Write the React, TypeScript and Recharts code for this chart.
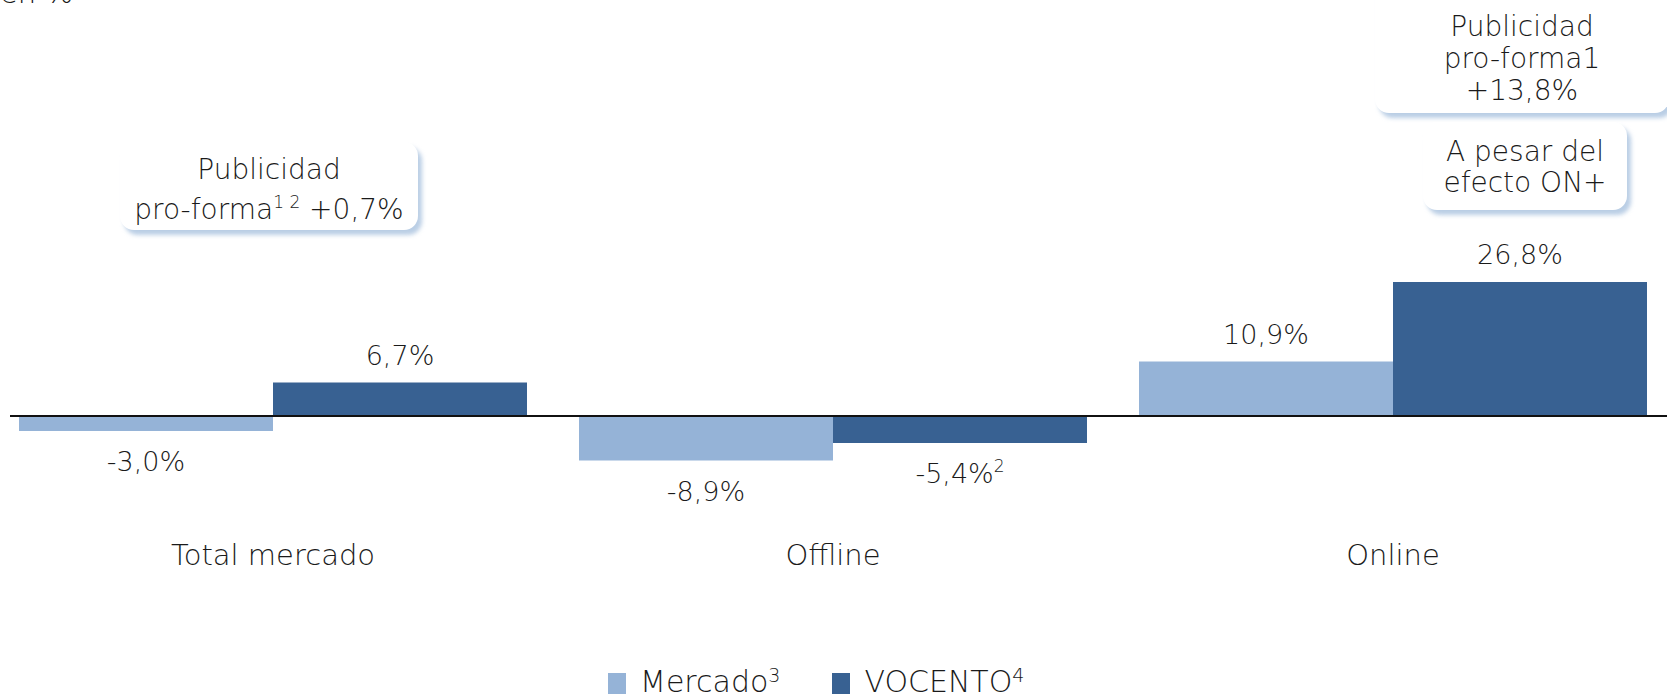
import { Bar, BarChart, LabelList, Legend, ReferenceLine, XAxis, YAxis } from "recharts"

const categories = ["Total mercado", "Offline", "Online"]
const mercado = [-3.0, -8.9, 10.9]
const vocento = [6.7, -5.4, 26.8]
const mercadoNotes = ["", "", ""]
const vocentoNotes = ["", "2", ""]

const data = categories.map((name, i) => ({ name, mercado: mercado[i], vocento: vocento[i] }))

const FONT = "'DejaVu Sans', sans-serif"
const WEIGHT = 300
const TEXT = "#1a1a1a"
const LIGHT = "#95b3d7"
const DARK = "#386192"

const fmt = (v: number) => v.toFixed(1).replace(".", ",") + "%"

const valueLabel = (notes: string[]) => (props: any) => {
  const x = Number(props.x)
  const y = Number(props.y)
  const w = Number(props.width)
  const h = Number(props.height)
  const v = Number(props.value)
  const top = Math.min(y, y + h)
  const bottom = Math.max(y, y + h)
  const note = notes[props.index]
  return (
    <text
      x={x + w / 2}
      y={v >= 0 ? top - 18 : bottom + 40}
      textAnchor="middle"
      fontSize={27}
      fontWeight={WEIGHT}
      fontFamily={FONT}
      fill={TEXT}
    >
      {fmt(v)}
      {note ? (
        <tspan dy={-11} fontSize={17}>
          {note}
        </tspan>
      ) : null}
    </text>
  )
}

const CategoryTick = (props: any) => (
  <text
    x={props.x}
    y={props.y + 66}
    textAnchor="middle"
    fontSize={29}
    fontWeight={WEIGHT}
    fontFamily={FONT}
    fill={TEXT}
  >
    {props.payload.value}
  </text>
)

const legendItems = [
  { label: "Mercado", note: "3", color: LIGHT },
  { label: "VOCENTO", note: "4", color: DARK },
]

const LegendContent = () => (
  <div style={{ display: "flex", alignItems: "flex-end", fontFamily: FONT, fontWeight: WEIGHT, color: TEXT }}>
    {legendItems.map((it) => (
      <div key={it.label} style={{ display: "flex", alignItems: "flex-end", marginRight: 52 }}>
        <span style={{ width: 18, height: 21, background: it.color, marginRight: 14, marginBottom: 3 }} />
        <span style={{ fontSize: 30, lineHeight: "30px" }}>
          {it.label}
          <span style={{ fontSize: 19, verticalAlign: 10 }}>{it.note}</span>
        </span>
      </div>
    ))}
  </div>
)

const boxStyle: React.CSSProperties = {
  position: "absolute",
  background: "#fff",
  borderRadius: 14,
  boxShadow: "4px 5px 4px rgba(149,179,215,0.65)",
  textAlign: "center",
  fontFamily: FONT,
  fontWeight: WEIGHT,
  fontSize: 28,
  color: TEXT,
  boxSizing: "border-box",
  whiteSpace: "nowrap",
}

const sup: React.CSSProperties = { fontSize: 17, verticalAlign: 11 }

export default function App() {
  return (
    <div style={{ position: "absolute", left: 0, top: 0, width: 1667, height: 695, overflow: "hidden", background: "#fff" }}>
      <div style={{ position: "absolute", left: -40, top: 0 }}>
        <BarChart
          width={1720}
          height={695}
          data={data}
          margin={{ top: 241, right: 7, bottom: 174, left: 33 }}
          barGap={0}
          barSize={254}
        >
          <XAxis dataKey="name" axisLine={false} tickLine={false} height={30} tick={<CategoryTick />} interval={0} />
          <YAxis hide domain={[-15, 35]} />
          <Legend
            verticalAlign="middle"
            align="center"
            content={<LegendContent />}
            wrapperStyle={{ left: 648, top: 660, width: "auto" }}
          />
          <Bar dataKey="mercado" name="Mercado" fill={LIGHT} isAnimationActive={false}>
            <LabelList dataKey="mercado" content={valueLabel(mercadoNotes)} />
          </Bar>
          <Bar dataKey="vocento" name="VOCENTO" fill={DARK} isAnimationActive={false}>
            <LabelList dataKey="vocento" content={valueLabel(vocentoNotes)} />
          </Bar>
          <ReferenceLine
            y={0}
            stroke="#111"
            strokeWidth={2}
            shape={(p: any) => (
              <line x1={p.x1 + 17} y1={p.y1} x2={p.x2} y2={p.y2} stroke="#111" strokeWidth={2} />
            )}
          />
        </BarChart>
      </div>

      <div style={{ position: "absolute", left: 0, top: -21, fontFamily: FONT, fontWeight: WEIGHT, fontSize: 29, lineHeight: "29px", color: TEXT }}>
        en %
      </div>

      <div style={{ ...boxStyle, left: 120, top: 142, width: 298, height: 88, paddingTop: 12, lineHeight: "32px" }}>
        Publicidad
        <br />
        pro-forma<span style={sup}>1 2</span> +0,7%
      </div>

      <div style={{ ...boxStyle, left: 1375, top: -20, width: 294, height: 133, paddingTop: 31, lineHeight: "32px" }}>
        Publicidad
        <br />
        pro-forma1
        <br />
        +13,8%
      </div>

      <div style={{ ...boxStyle, left: 1423, top: 122, width: 204, height: 88, paddingTop: 14, lineHeight: "31px" }}>
        A pesar del
        <br />
        efecto ON+
      </div>
    </div>
  )
}
